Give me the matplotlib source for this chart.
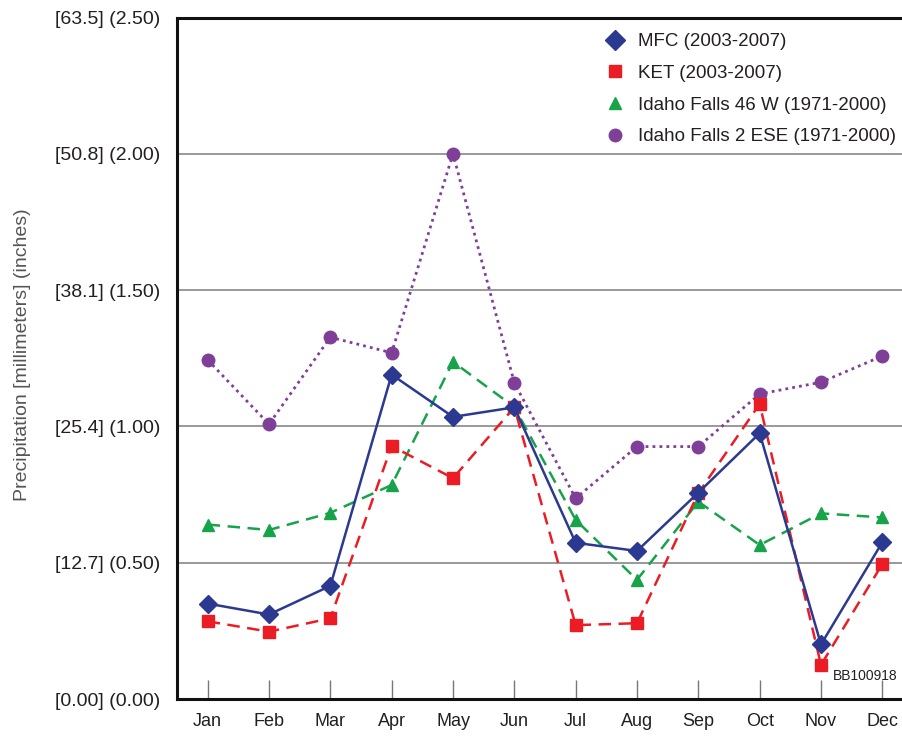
import matplotlib.pyplot as plt
from matplotlib.lines import Line2D

plt.rcParams['font.family'] = ['Liberation Sans', 'DejaVu Sans']

months = ['Jan', 'Feb', 'Mar', 'Apr', 'May', 'Jun',
          'Jul', 'Aug', 'Sep', 'Oct', 'Nov', 'Dec']

# monthly precipitation, inches
mfc = [0.35, 0.31, 0.415, 1.19, 1.035, 1.07, 0.573, 0.543, 0.757, 0.975, 0.20, 0.575]
ket = [0.285, 0.247, 0.296, 0.928, 0.81, 1.07, 0.271, 0.278, 0.755, 1.082, 0.125, 0.495]
if46w = [0.64, 0.62, 0.683, 0.785, 1.237, 1.071, 0.657, 0.437, 0.724, 0.565, 0.681, 0.666]
if2ese = [1.244, 1.008, 1.327, 1.27, 2.00, 1.16, 0.736, 0.926, 0.926, 1.119, 1.162, 1.258]

yticks = [0, 0.5, 1.0, 1.5, 2.0, 2.5]
ytick_labels = ['[0.00] (0.00)', '[12.7] (0.50)', '[25.4] (1.00)',
                '[38.1] (1.50)', '[50.8] (2.00)', '[63.5] (2.50)']

labels = ['MFC (2003-2007)', 'KET (2003-2007)',
          'Idaho Falls 46 W (1971-2000)', 'Idaho Falls 2 ESE (1971-2000)']

blue = '#2B3990'
red = '#EC1C24'
green = '#16A34A'
purple = '#7F3F98'
txt = '#231F20'

fig = plt.figure(figsize=(9.02, 7.36), dpi=100)
ax = fig.add_axes([177 / 902, 37 / 736, 736 / 902, 681.5 / 736])

x = list(range(len(months)))
ax.plot(x, if2ese, color=purple, ls=(0, (1, 1.5)), lw=2, marker='o', ms=9, zorder=3)
ax.plot(x, if46w, color=green, ls=(0, (5, 3)), lw=1.8, marker='^', ms=9, zorder=4)
ax.plot(x, ket, color=red, ls=(0, (5, 3)), lw=1.8, marker='s', ms=9, zorder=5)
ax.plot(x, mfc, color=blue, ls='-', lw=1.8, marker='D', ms=9, zorder=6)

ax.set_xlim(-0.5, 11.5)
ax.set_ylim(0, 2.5)
ax.set_xticks(x)
ax.set_xticklabels(months, fontsize=13, color=txt)
ax.set_yticks(yticks)
ax.set_yticklabels(ytick_labels, fontsize=14, color=txt)
ax.tick_params(axis='x', direction='in', length=14, width=1, color='#777777', pad=10)
ax.tick_params(axis='y', length=0, pad=12)
ax.grid(axis='y', color='#888888', lw=1.2)
ax.set_axisbelow(True)
for s in ax.spines.values():
    s.set_linewidth(2.2)
    s.set_color('#111111')

ax.set_ylabel('Precipitation [millimeters] (inches)', fontsize=14, color='#555555')
ax.yaxis.set_label_coords(-0.199, 0.505)

handles = [
    Line2D([], [], color=blue, marker='D', ls='none', ms=10),
    Line2D([], [], color=red, marker='s', ls='none', ms=9),
    Line2D([], [], color=green, marker='^', ls='none', ms=9),
    Line2D([], [], color=purple, marker='o', ls='none', ms=9),
]
leg = fig.legend(handles, labels, loc='upper left', bbox_to_anchor=(604 / 902, 1 - 33 / 736),
                 frameon=False, fontsize=13.5, handlelength=1.2, handletextpad=0.6,
                 labelspacing=0.78, borderpad=0, borderaxespad=0)
for t in leg.get_texts():
    t.set_color(txt)

fig.text(898 / 902, 1 - 676 / 736, 'BB100918', fontsize=10, color=txt, va='center', ha='right')

fig.savefig('out.png', dpi=100)
